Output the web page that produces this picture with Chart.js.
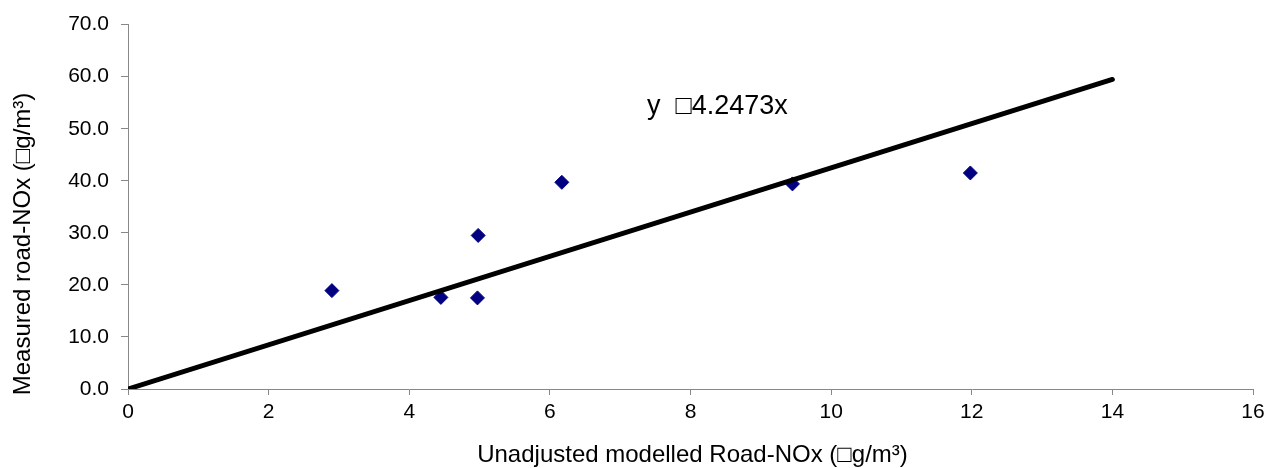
<!DOCTYPE html>
<html>
<head>
<meta charset="utf-8">
<script src="https://cdn.jsdelivr.net/npm/chart.js@4.4.1/dist/chart.umd.min.js"></script>
<style>
  html, body { margin: 0; padding: 0; background: #fff; }
  #wrap { width: 1277px; height: 468px; }
</style>
</head>
<body>
<div id="wrap"><canvas id="chart" width="1277" height="468"></canvas></div>
<script>
// measured vs unadjusted modelled road-NOx
const modelled = [2.90, 4.45, 4.97, 4.98, 6.17, 9.45, 11.98];
const measured = [18.9, 17.6, 17.5, 29.5, 39.7, 39.4, 41.5];

// trend line y = 4.2473x, end points as drawn
const trendX = [0, 14];
const trendY = [0.0, 59.46];

const xTicks = [0, 2, 4, 6, 8, 10, 12, 14, 16];
const yTicks = [0, 10, 20, 30, 40, 50, 60, 70];

const equationText = 'y  \u25A14.2473x';
const xTitle = 'Unadjusted modelled Road-NOx (\u25A1g/m\u00B3)';
const yTitle = 'Measured road-NOx (\u25A1g/m\u00B3)';

const FONT = '"Liberation Sans", Arial, sans-serif';
const AXIS_GREY = '#878787';

// axis titles + equation label, drawn by hand so they sit where the original has them
const labelsPlugin = {
  id: 'labels',
  afterDraw(chart) {
    const ctx = chart.ctx;
    const area = chart.chartArea;
    const sx = chart.scales.x, sy = chart.scales.y;
    ctx.save();
    ctx.fillStyle = '#000';
    ctx.textBaseline = 'middle';

    ctx.font = '24px ' + FONT;
    ctx.textAlign = 'center';
    ctx.fillText(xTitle, (area.left + area.right) / 2 + 2, 455);

    ctx.save();
    ctx.translate(23, 244);
    ctx.rotate(-Math.PI / 2);
    ctx.fillText(yTitle, 0, 0);
    ctx.restore();

    ctx.font = '27px ' + FONT;
    ctx.textAlign = 'left';
    ctx.fillText(equationText, sx.getPixelForValue(7.38), sy.getPixelForValue(54.3));
    ctx.restore();
  }
};

new Chart(document.getElementById('chart'), {
  type: 'scatter',
  data: {
    datasets: [
      {
        type: 'line',
        data: trendX.map((x, i) => ({ x: x, y: trendY[i] })),
        borderColor: '#000',
        borderWidth: 5,
        borderCapStyle: 'round',
        pointRadius: 0,
        fill: false
      },
      {
        data: modelled.map((x, i) => ({ x: x, y: measured[i] })),
        pointStyle: 'rectRot',
        pointRadius: 7,
        pointHoverRadius: 7,
        backgroundColor: '#000080',
        borderColor: '#000080',
        borderWidth: 1
      }
    ]
  },
  options: {
    responsive: false,
    animation: false,
    events: [],
    layout: { padding: { left: 0, top: 23, right: 24, bottom: 0 } },
    plugins: {
      legend: { display: false },
      tooltip: { enabled: false }
    },
    scales: {
      x: {
        type: 'linear',
        min: 0,
        max: 16,
        afterBuildTicks: s => { s.ticks = xTicks.map(v => ({ value: v })); },
        afterFit: s => { s.height = 79; },
        grid: { drawOnChartArea: false, drawTicks: true, tickLength: 6, color: AXIS_GREY },
        border: { color: AXIS_GREY, width: 1 },
        ticks: { color: '#000', font: { family: FONT, size: 21 }, padding: 5, maxRotation: 0 }
      },
      y: {
        min: 0,
        max: 70,
        afterBuildTicks: s => { s.ticks = yTicks.map(v => ({ value: v })); },
        afterFit: s => { s.width = 128; },
        grid: { drawOnChartArea: false, drawTicks: true, tickLength: 7, color: AXIS_GREY },
        border: { color: AXIS_GREY, width: 1 },
        ticks: {
          color: '#000',
          font: { family: FONT, size: 21 },
          padding: 12,
          callback: v => v.toFixed(1)
        }
      }
    }
  },
  plugins: [labelsPlugin]
});
</script>
</body>
</html>
